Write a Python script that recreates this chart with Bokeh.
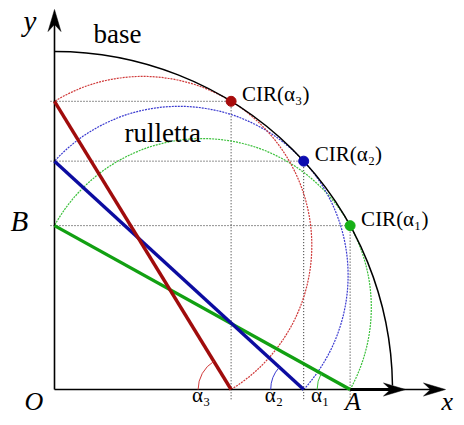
import numpy as np
from bokeh.plotting import figure
from bokeh.models import Range1d
from bokeh.core.properties import value
from bokeh.embed import file_html
from bokeh.resources import INLINE

# ---- data ----
rod_length = 338.0                      # length of the sliding segment AB (= base radius)
alpha_deg = [29.0, 42.5, 58.5]          # three positions of the segment
alpha_labels = ["α₁", "α₂", "α₃"]
cir_labels = ["CIR(α₁)", "CIR(α₂)", "CIR(α₃)"]

# ---- styles ----
seg_colors = ["#12a012", "#0c0ca0", "#a00c0c"]
dot_colors = ["#16b016", "#0c0cb0", "#a80c0c"]
circ_colors = ["#3cc03c", "#3a3ad0", "#d03a3a"]
FONT = value("Liberation Serif")

L = rod_length
a = np.radians(alpha_deg)
Ax = L * np.cos(a)
By = L * np.sin(a)

p = figure(width=456, height=417, output_backend="svg", toolbar_location=None,
           x_axis_type=None, y_axis_type=None, min_border=0,
           x_range=Range1d(-54, 402), y_range=Range1d(-28, 389))
p.outline_line_color = None
p.grid.visible = False
p.background_fill_color = "white"

# dotted construction lines
p.segment(x0=np.full(3, -4.0), y0=By, x1=Ax, y1=By, line_color="#222222",
          line_width=1, line_dash="1 2")
p.segment(x0=Ax, y0=By, x1=Ax, y1=np.full(3, -10.0), line_color="#222222",
          line_width=1, line_dash="1 2")

# rolling circles (rulletta)
for i in range(3):
    p.arc(x=Ax[i] / 2, y=By[i] / 2, radius=L / 2, start_angle=-a[i],
          end_angle=np.pi - a[i], line_color=circ_colors[i], line_width=1.2,
          line_dash="2 1")

# base circle
p.arc(x=0, y=0, radius=L, start_angle=0.012, end_angle=np.pi / 2,
      line_color="black", line_width=1.5)

# axes
x_tip, y_tip = 391.0, 380.0
p.segment(x0=[0, 0], y0=[0, 0], x1=[x_tip - 10, 0], y1=[0, y_tip - 10],
          line_color="black", line_width=1.6)
p.segment(x0=[Ax[0]], y0=[0], x1=[349 - 10], y1=[0], line_color="black", line_width=3)


def head(tx, ty, dx, dy, ln=22, hw=6.5, notch=7):
    nx, ny = -dy, dx
    xs = [tx, tx - dx * ln + nx * hw, tx - dx * (ln - notch), tx - dx * ln - nx * hw]
    ys = [ty, ty - dy * ln + ny * hw, ty - dy * (ln - notch), ty - dy * ln - ny * hw]
    return xs, ys


hx, hy = zip(head(x_tip, 0, 1, 0), head(0, y_tip, 0, 1), head(351, 0, 1, 0))
p.patches(xs=list(hx), ys=list(hy), fill_color="black", line_color="black", line_width=0.5)

# sliding segments
p.segment(x0=np.zeros(3), y0=By, x1=Ax, y1=np.zeros(3), line_color=seg_colors,
          line_width=3.4)

# angle arcs
for i in range(3):
    p.arc(x=Ax[i], y=0, radius=33, start_angle=np.pi - a[i], end_angle=np.pi,
          line_color=circ_colors[i], line_width=1)

# instantaneous centres of rotation
p.scatter(x=Ax, y=By, size=10, fill_color=dot_colors, line_color=dot_colors)

# texts
p.text(x=Ax + 11, y=By + 7, text=cir_labels, text_font=FONT, text_font_size="21px",
       text_baseline="alphabetic", text_align="left", text_color="black")
p.text(x=Ax - 39, y=np.full(3, -5.0), text=alpha_labels, text_font=FONT,
       text_font_size="21px", text_baseline="alphabetic", text_align="left",
       text_color="black")
p.text(x=[39, 70], y=[355.5, 256.5], text=["base", "rulletta"], text_font=FONT,
       text_font_size="27px", text_baseline="alphabetic", text_align="left",
       text_color="black")
p.text(x=[-31, -44], y=[369, 169], text=["y", "B"], text_font=FONT,
       text_font_size="29px", text_font_style="italic", text_baseline="alphabetic",
       text_align="left", text_color="black")
p.text(x=[387, -30, Ax[0] - 5], y=[-12, -12, -12], text=["x", "O", "A"], text_font=FONT,
       text_font_size="26px", text_font_style="italic", text_baseline="alphabetic",
       text_align="left", text_color="black")

open("out.html", "w").write(file_html(p, INLINE))
